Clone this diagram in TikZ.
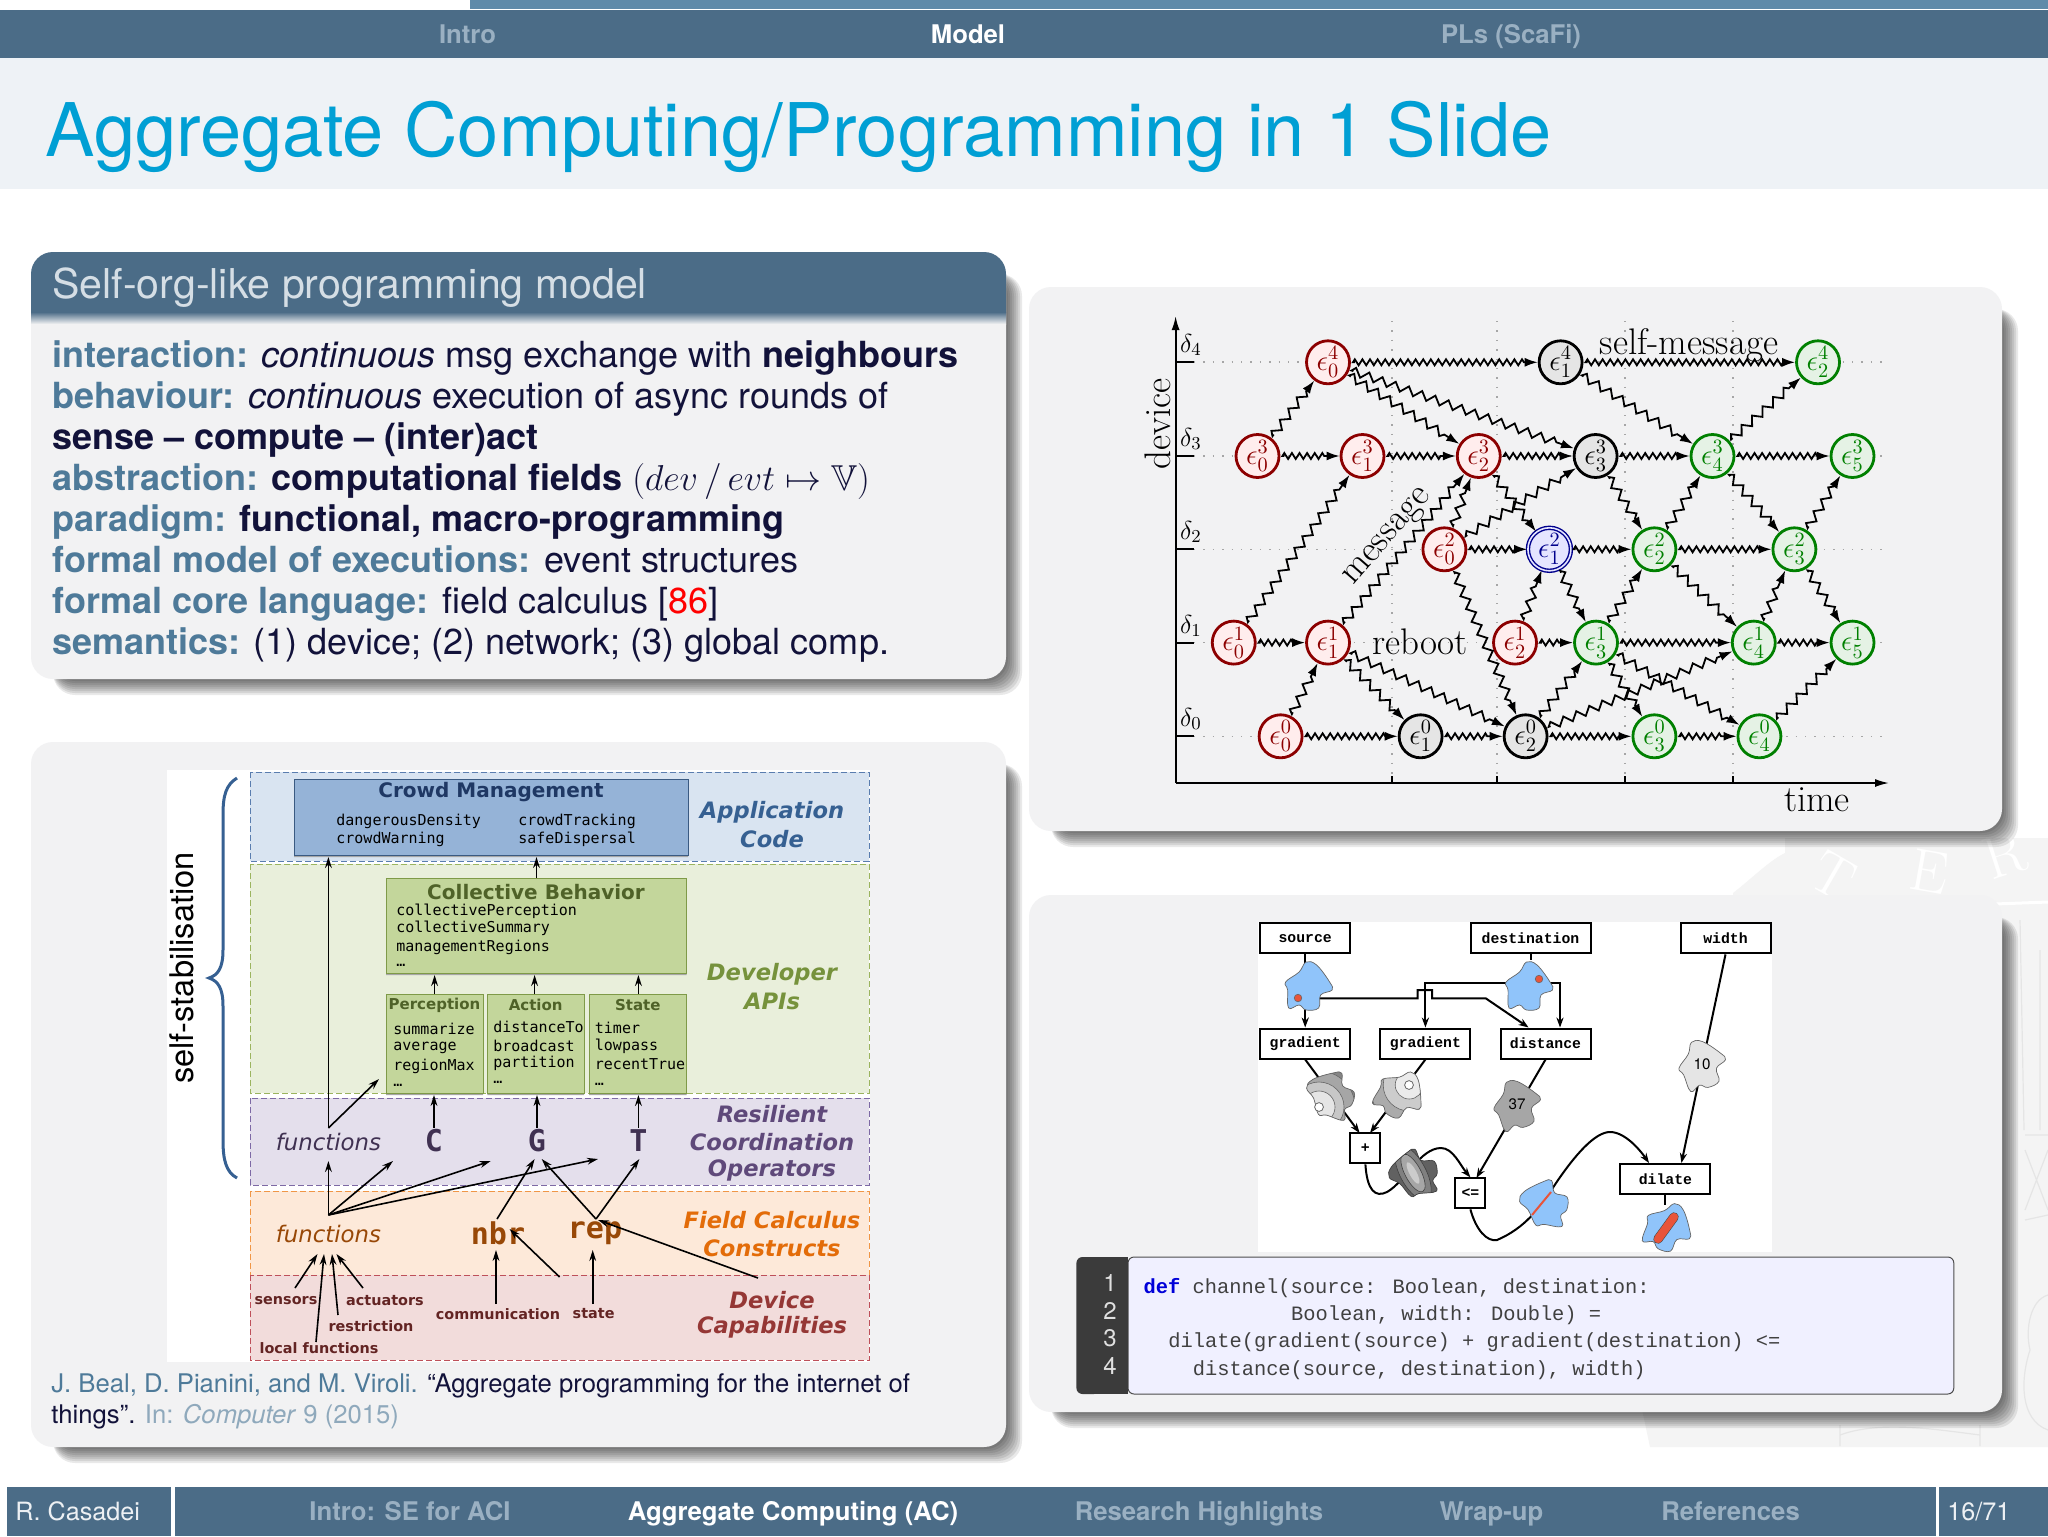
\documentclass[tikz,border=0pt]{standalone}
\usepackage{amssymb}
\usepackage[no-math]{fontspec}
\usepackage{fix-cm}
\usetikzlibrary{arrows.meta,decorations.pathmorphing,calc}
\newfontfamily\hv{TeX Gyre Heros}
\newfontfamily\dv{DejaVu Sans}
\newfontfamily\dvm{DejaVu Sans Mono}
\newfontfamily\lmo{Liberation Mono}
\newcommand{\fs}[1]{\fontsize{#1}{#1}\selectfont}
\newcommand{\tx}[5]{\node[#1] (#2) at (#3,#4) {#5};}
\definecolor{barc}{HTML}{4B6C87}
\definecolor{stripc}{HTML}{5F8AA9}
\definecolor{titc}{HTML}{009FD4}
\definecolor{bandc}{HTML}{EEF2F6}
\definecolor{panelc}{HTML}{F2F2F3}
\definecolor{keyc}{HTML}{4E7A99}
\definecolor{navy}{HTML}{12123A}
\definecolor{dimc}{HTML}{9AB0C2}
\definecolor{headc}{HTML}{D5DEE5}
\definecolor{citec}{HTML}{8FA9BC}
\definecolor{blobb}{HTML}{90C4FA}
\definecolor{dotc}{HTML}{E8543A}
\newcommand{\panel}[4]{%
  \foreach \d in {16,14,...,2}{\fill[black,opacity=.085,rounded corners=11pt] (#1+22,#2+22) rectangle (#3+\d,#4+\d);}
  \fill[panelc,rounded corners=11pt] (#1,#2) rectangle (#3,#4);}
\newcommand{\blobshape}{plot[smooth cycle,tension=.65] coordinates {(-2.5,-24)(8,-21)(21,-4)(23.5,4)(12,9)(10,22)(-2.5,24)(-9.5,19)(-20,22)(-21,4)(-23,-4)(-9.5,-14)}}
\tikzset{
  evbase/.style={circle,minimum size=21.5pt,inner sep=0pt,line width=1.4pt,font=\fs{14.5}},
  evr/.style={evbase,draw=red!55!black,fill=red!7!white,text=red!55!black},
  evk/.style={evbase,draw=black,fill=black!10,text=black},
  evg/.style={evbase,draw=green!50!black,fill=green!50!black!10,text=green!50!black},
  evb/.style={evbase,draw=blue!55!black,fill=blue!10,text=blue!55!black,double=blue!10,double distance=.8pt,line width=.7pt},
  msg/.style={line width=.9pt,decorate,decoration={zigzag,segment length=3.8pt,amplitude=1.5pt,pre length=1pt,post length=6pt},-{Latex[length=6.5pt,width=4.5pt]},shorten <=2pt},
  msgd/.style={line width=.9pt,decorate,decoration={zigzag,segment length=7pt,amplitude=2pt,pre length=1pt,post length=6pt},-{Latex[length=6.5pt,width=4.5pt]},shorten <=2pt},
  romt/.style={inner sep=0pt,font=\rmfamily\fs{18.5}},
  zone/.style={line width=.5pt,dash pattern=on 3pt off 1.5pt},
  mono/.style={inner sep=0pt,anchor=west,font=\dvm\fs{7.5}},
  abox/.style={draw,line width=.5pt},
  atit/.style={inner sep=0pt,font=\dv\bfseries\fs{10}},
  atit2/.style={inner sep=0pt,font=\dv\bfseries\fs{7.5}},
  capl/.style={inner sep=0pt,font=\dv\bfseries\itshape\fs{11.3}},
  devl/.style={inner sep=0pt,text={rgb,255:red,99;green,36;blue,35},font=\dv\bfseries\fs{7.2}},
  bigm/.style={inner sep=0pt,font=\dvm\bfseries\fs{15}},
  fun/.style={inner sep=0pt,font=\dv\itshape\fs{11.4}},
  arr/.style={line width=.8pt,-{Stealth[length=5.5pt,width=3.4pt]}},
  fbox/.style={draw=black,fill=white,line width=1pt,inner sep=0pt,font=\lmo\bfseries\fs{7.4}},
  farr/.style={line width=1pt,-{Stealth[length=5pt,width=3.6pt]}},
  fline/.style={line width=1pt},
  blobo/.style={draw=black!60,line width=.35pt},
  num/.style={inner sep=0pt,text=white!88!black,font=\hv\fs{12}},
  code/.style={inner sep=0pt,anchor=base west,text=black!75,font=\lmo\fs{10.2}},
  bodyt/.style={inner sep=0pt,anchor=base west,text=navy,font=\hv\fs{18}},
  bartxt/.style={inner sep=0pt,anchor=base,text=dimc,font=\hv\bfseries\fs{12.85}},
}
\begin{document}
\begin{tikzpicture}[x=.5pt,y=-.5pt]
\useasboundingbox (0,0) rectangle (2048,1536);
\fill[white] (0,0) rectangle (2048,1536);
% watermark
\fill[black!4.5] (1733,893) .. controls (1750,880) and (1770,860) .. (1785,853) -- (1785,838) -- (2048,838) -- (2048,1447) -- (1650,1447) -- (1640,1400) -- (1733,1400) -- cycle;
\foreach \n/\px/\py/\ang/\lt in {wa/1833/876/-30/T,wb/1930/872/-10/E,wc/2005/855/18/R}{\node[inner sep=0pt,text=white,rotate=\ang,font=\rmfamily\fs{30}] (\n) at (\px,\py) {\lt};}
\draw[white,line width=1.5pt] (1995,904) -- (2048,902);
\draw[black!10,line width=.6pt] (2020,920) -- (2024,1130) (2040,950) -- (2040,1130) (2025,1135) -- (2048,1135) (2025,1220) -- (2048,1215) (2025,1150) -- (2048,1210) (2025,1210) -- (2048,1150);
\draw[black!10,line width=.6pt] (2048,1295) .. controls (2030,1300) and (2025,1330) .. (2030,1350) .. controls (2020,1380) and (2020,1420) .. (2048,1430);
\draw[black!10,line width=.6pt] (1840,1425) -- (1840,1446) (1980,1425) -- (1980,1446) (1840,1435) .. controls (1880,1420) and (1940,1430) .. (1980,1435);
% top bars
\fill[stripc] (470,0) rectangle (2048,9);
\fill[barc] (0,10) rectangle (2048,58);
\fill[bandc] (0,58) rectangle (2048,189);
\tx{bartxt}{hi}{467.6}{44}{Intro}
\tx{bartxt,text=white}{hm}{968}{44}{Model}
\tx{bartxt}{hp}{1511}{44}{PLs (ScaFi)}
\tx{inner sep=0pt,anchor=base west,text=titc,font=\hv\fs{37}}{title}{45}{156}{Aggregate Computing/Programming in 1 Slide}
% panels
\panel{31}{252}{1006}{679}
\panel{31}{742}{1006}{1447}
\panel{1029}{287}{2002}{831}
\panel{1029}{895}{2002}{1412}
% block header
\fill[barc] (31,313) [rounded corners=11pt] -- (31,252) -- (1006,252) [sharp corners] -- (1006,313) -- cycle;
\shade[top color=barc,bottom color=panelc] (31,312) rectangle (1006,324);
\tx{inner sep=0pt,anchor=base west,text=headc,font=\hv\fs{20.55}}{blockhead}{52}{298}{Self-org-like programming model}
% block text
\tx{bodyt}{l1}{52}{367}{\textcolor{keyc}{\bfseries interaction:} \textit{continuous} msg exchange with \textbf{neighbours}}
\tx{bodyt}{l2}{52}{408}{\textcolor{keyc}{\bfseries behaviour:} \textit{continuous} execution of async rounds of}
\tx{bodyt}{l3}{52}{449}{\textbf{sense – compute – (inter)act}}
\tx{bodyt}{l4}{52}{490}{\textcolor{keyc}{\bfseries abstraction:} \textbf{computational fields} $(dev\,/\,evt\mapsto\mathbb{V})$}
\tx{bodyt}{l5}{52}{531}{\textcolor{keyc}{\bfseries paradigm:} \textbf{functional, macro-programming}}
\tx{bodyt}{l6}{52}{572}{\textcolor{keyc}{\bfseries formal model of executions:} event structures}
\tx{bodyt}{l7}{52}{613}{\textcolor{keyc}{\bfseries formal core language:} field calculus [\textcolor{red}{86}]}
\tx{bodyt}{l8}{52}{654}{\textcolor{keyc}{\bfseries semantics:} (1) device; (2) network; (3) global comp.}
% architecture
\fill[white] (167,770) rectangle (870,1362);
\filldraw[zone,fill={rgb,255:red,217;green,228;blue,241},draw={rgb,255:red,90;green,125;blue,175}] (250,772) rectangle (869,861);
\filldraw[zone,fill={rgb,255:red,233;green,239;blue,219},draw={rgb,255:red,155;green,180;blue,95}] (250,864) rectangle (869,1093);
\filldraw[zone,fill={rgb,255:red,228;green,223;blue,236},draw={rgb,255:red,125;green,105;blue,165}] (250,1098) rectangle (869,1185);
\filldraw[zone,fill={rgb,255:red,253;green,233;blue,217},draw={rgb,255:red,240;green,150;blue,70}] (250,1191) rectangle (869,1275);
\filldraw[zone,fill={rgb,255:red,242;green,220;blue,219},draw={rgb,255:red,190;green,80;blue,90}] (250,1275) rectangle (869,1360);
\fill[black!35] (294,782) rectangle (688,857) (386,880) rectangle (686.6,975) (386,996) rectangle (483,1095) (487.4,996) rectangle (584,1095) (589,996) rectangle (686.6,1095);
\definecolor{cmb}{HTML}{95B3D7}\definecolor{cmd}{HTML}{3A5A82}
\definecolor{dgb}{HTML}{C3D69B}\definecolor{dgd}{HTML}{7F9A48}\definecolor{dgt}{HTML}{4F6228}
\filldraw[abox,fill=cmb,draw=cmd] (294,779) rectangle (688,855);
\filldraw[abox,fill=dgb,draw=dgd] (386,878) rectangle (686.6,973);
\filldraw[abox,fill=dgb,draw=dgd] (386,994) rectangle (483,1093);
\filldraw[abox,fill=dgb,draw=dgd] (487.4,994) rectangle (584,1093);
\filldraw[abox,fill=dgb,draw=dgd] (589,994) rectangle (686.6,1093);
\tx{atit,text={rgb,255:red,31;green,56;blue,100}}{crowd}{491}{792}{Crowd Management}
\tx{mono}{c1}{336}{821}{dangerousDensity}
\tx{mono}{c2}{336}{839}{crowdWarning}
\tx{mono}{c3}{518}{821}{crowdTracking}
\tx{mono}{c4}{518}{839}{safeDispersal}
\tx{atit,text=dgt}{coll}{536}{892}{Collective Behavior}
\tx{mono}{cb1}{396}{911}{collectivePerception}
\tx{mono}{cb2}{396}{928}{collectiveSummary}
\tx{mono}{cb3}{396}{947}{managementRegions}
\tx{mono}{cb4}{396}{965}{…}
\tx{atit2,text=dgt}{perc}{434.5}{1005}{Perception}
\tx{mono}{p1}{393}{1029}{summarize}
\tx{mono}{p2}{393}{1048}{average}
\tx{mono}{p3}{393}{1066}{regionMax}
\tx{mono}{p4}{393}{1085}{…}
\tx{atit2,text=dgt}{act}{535.7}{1005}{Action}
\tx{mono}{a1}{493}{1027}{distanceTo}
\tx{mono}{a2}{493}{1046}{broadcast}
\tx{mono}{a3}{493}{1063}{partition}
\tx{mono}{a4}{493}{1082}{…}
\tx{atit2,text=dgt}{stat}{637.8}{1005}{State}
\tx{mono}{s1}{594.5}{1028}{timer}
\tx{mono}{s2}{594.5}{1046}{lowpass}
\tx{mono}{s3}{594.5}{1064}{recentTrue}
\tx{mono}{s4}{594.5}{1084}{…}
% right captions
\tx{capl,text={rgb,255:red,54;green,96;blue,146}}{cap1}{772}{812}{Application}
\tx{capl,text={rgb,255:red,54;green,96;blue,146}}{cap2}{772}{839}{Code}
\tx{capl,text={rgb,255:red,118;green,146;blue,60}}{cap3}{772}{974}{Developer}
\tx{capl,text={rgb,255:red,118;green,146;blue,60}}{cap4}{772}{1001}{APIs}
\tx{capl,text={rgb,255:red,95;green,73;blue,122}}{cap5}{772}{1114}{Resilient}
\tx{capl,text={rgb,255:red,95;green,73;blue,122}}{cap6}{772}{1142}{Coordination}
\tx{capl,text={rgb,255:red,95;green,73;blue,122}}{cap7}{772}{1170}{Operators}
\tx{capl,text={rgb,255:red,227;green,108;blue,9}}{cap8}{772}{1220}{Field Calculus}
\tx{capl,text={rgb,255:red,227;green,108;blue,9}}{cap9}{772}{1248}{Constructs}
\tx{capl,text={rgb,255:red,149;green,55;blue,53}}{cap10}{772}{1300}{Device}
\tx{capl,text={rgb,255:red,149;green,55;blue,53}}{cap11}{772}{1327}{Capabilities}
% operators
\tx{fun,text={rgb,255:red,64;green,49;blue,82}}{funa}{328.4}{1142}{functions}
\tx{bigm,text={rgb,255:red,64;green,49;blue,82}}{opc}{434}{1141}{C}
\tx{bigm,text={rgb,255:red,64;green,49;blue,82}}{opg}{537}{1141}{G}
\tx{bigm,text={rgb,255:red,64;green,49;blue,82}}{opt}{638.4}{1141}{T}
\tx{fun,text={rgb,255:red,152;green,72;blue,7}}{funb}{328.4}{1234}{functions}
\tx{bigm,text={rgb,255:red,152;green,72;blue,7}}{opn}{498}{1233}{nbr}
\tx{bigm,text={rgb,255:red,152;green,72;blue,7}}{opr}{595}{1233}{rep}
\tx{devl}{dsen}{286}{1301}{sensors}
\tx{devl}{dact}{385}{1301}{actuators}
\tx{devl}{dres}{371}{1326}{restriction}
\tx{devl}{dloc}{319}{1348}{local functions}
\tx{devl}{dcom}{498}{1314}{communication}
\tx{devl}{dsta}{593.6}{1314}{state}
% arch arrow ends
\foreach \n/\px/\py in {fa/328.4/1128,fb/328.4/857,fc/379/1079,cc/536.5/857,pa/434.6/975,pb/534.6/975,pc/638.4/975,
  u1/434/1128,u2/537/1128,u3/638.4/1128,v1/434/1095,v2/537/1095,v3/638.4/1095,
  fo/328.4/1215,t1/328.4/1161,t2/393/1161,t3/490.7/1161,t4/598/1159,
  nb/497/1219,gl/534.6/1159,rt/596/1219,gr/541.7/1159,tb/639.4/1159,
  ca/559.6/1277,cb/509.6/1229,sa/758/1278,sb/598/1220,
  n1/496/1304,n2/496/1250,r1/592.7/1304,r2/592.7/1250,
  q1/295/1288,q2/317.5/1254,q3/316/1342,q4/324/1254,q5/338/1315,q6/332/1254,q7/363/1288,q8/336.4/1254,
  cola/536.5/878,pp/434.6/994,aa/534.6/994,ss/638.4/994}
  {\coordinate (\n) at (\px,\py);}
\foreach \a/\b in {fa/fb,fa/fc,cola/cc,pp/pa,aa/pb,ss/pc,u1/v1,u2/v2,u3/v3,fo/t1,fo/t2,fo/t3,fo/t4,nb/gl,rt/gr,rt/tb,ca/cb,sa/sb,n1/n2,r1/r2,q1/q2,q3/q4,q5/q6,q7/q8}
  \draw[arr] (\a) -- (\b);
% brace + self-stabilisation
\draw[draw={rgb,255:red,54;green,96;blue,146},line width=1.5pt] (237,778) .. controls (226,785) and (223,795) .. (223,815) -- (223,950) .. controls (223,968) and (218,975) .. (209,978) .. controls (218,981) and (223,988) .. (223,1006) -- (223,1140) .. controls (223,1160) and (226,1172) .. (237,1178);
\tx{inner sep=0pt,rotate=90,text=black,font=\hv\fs{16.3}}{stab}{182}{968}{self-stabilisation}
% citation
\tx{inner sep=0pt,anchor=base west,text=navy,font=\hv\fs{12.83}}{cit1}{51}{1392}{\textcolor{keyc}{J. Beal, D. Pianini, and M. Viroli.} “Aggregate programming for the internet of}
\tx{inner sep=0pt,anchor=base west,text=navy,font=\hv\fs{12.83}}{cit2}{51}{1423}{things”. \textcolor{citec}{In: \textit{Computer} 9 (2015)}}
% event structure
\draw[black!35,line width=.7pt,dash pattern=on .7pt off 4pt] (1194,362) -- (1883,362) (1194,456) -- (1883,456) (1194,549.3) -- (1883,549.3) (1194,642.6) -- (1883,642.6) (1194,736.3) -- (1883,736.3);
\draw[black!35,line width=.7pt,dash pattern=on .7pt off 4pt] (1392,321) -- (1392,776) (1497,321) -- (1497,776) (1625,321) -- (1625,776) (1733,321) -- (1733,776);
\coordinate (orig) at (1175.6,783);
\coordinate (ytop) at (1175.6,316);
\coordinate (xend) at (1889,783);
\draw[line width=.9pt,-{Latex[length=7pt,width=4pt]}] (orig) -- (ytop);
\draw[line width=.9pt,-{Latex[length=7pt,width=4pt]}] (orig) -- (xend);
\draw[line width=.9pt] (1175.6,362) -- (1194,362) (1175.6,456) -- (1194,456) (1175.6,549.3) -- (1194,549.3) (1175.6,642.6) -- (1194,642.6) (1175.6,736.3) -- (1194,736.3);
\draw[line width=.9pt] (1392,783) -- (1392,776) (1497,783) -- (1497,776) (1625,783) -- (1625,776) (1733,783) -- (1733,776);
\foreach \n/\i/\py in {d4/4/345,d3/3/439,d2/2/532,d1/1/626,d0/0/719}{\node[inner sep=0pt,font=\fs{13}] (\n) at (1191,\py) {$\delta_{\i}$};}
\tx{romt,rotate=90}{devlab}{1158}{424}{device}
\tx{romt}{timelab}{1817}{800}{time}
\tx{romt}{selfm}{1689}{345}{self-message}
\tx{romt}{reboot}{1420}{642}{reboot}
\tx{romt,rotate=49}{messagel}{1389}{538}{message}
\newcommand{\evnode}[6]{\node[#1] (#2) at (#3,#4) {$\epsilon_{#5}^{#6}$};}
\evnode{evr}{e40}{1328}{362.3}{0}{4}
\evnode{evk}{e41}{1560.6}{362.3}{1}{4}
\evnode{evg}{e42}{1818}{362.3}{2}{4}
\evnode{evr}{e30}{1257.5}{456}{0}{3}
\evnode{evr}{e31}{1362.5}{456}{1}{3}
\evnode{evr}{e32}{1478.75}{456}{2}{3}
\evnode{evk}{e33}{1595.6}{456}{3}{3}
\evnode{evg}{e34}{1712.5}{456}{4}{3}
\evnode{evg}{e35}{1852.5}{456}{5}{3}
\evnode{evr}{e20}{1444.4}{549.3}{0}{2}
\evnode{evb}{e21}{1549.4}{549.3}{1}{2}
\evnode{evg}{e22}{1654.4}{549.3}{2}{2}
\evnode{evg}{e23}{1794.4}{549.3}{3}{2}
\evnode{evr}{e10}{1233.75}{642.6}{0}{1}
\evnode{evr}{e11}{1328}{642.6}{1}{1}
\evnode{evr}{e12}{1515}{642.6}{2}{1}
\evnode{evg}{e13}{1596}{642.6}{3}{1}
\evnode{evg}{e14}{1753.75}{642.6}{4}{1}
\evnode{evg}{e15}{1852.5}{642.6}{5}{1}
\evnode{evr}{e00}{1280.6}{736.3}{0}{0}
\evnode{evk}{e01}{1420.6}{736.3}{1}{0}
\evnode{evk}{e02}{1525.6}{736.3}{2}{0}
\evnode{evg}{e03}{1654.4}{736.3}{3}{0}
\evnode{evg}{e04}{1759.4}{736.3}{4}{0}
\foreach \a/\b in {e40/e41,e41/e42,e30/e31,e31/e32,e32/e33,e33/e34,e34/e35,e20/e21,e21/e22,e22/e23,e10/e11,e12/e13,e13/e14,e14/e15,e00/e01,e01/e02,e02/e03,e03/e04}
  \draw[msg] (\a) -- (\b);
\foreach \a/\b in {e30/e40,e40/e32,e40/e33,e41/e34,e34/e42,e10/e31,e11/e32,e20/e32,e20/e33,e32/e21,e33/e22,e22/e34,e34/e23,e23/e35,e20/e02,e21/e13,e12/e21,e13/e22,e22/e14,e14/e23,e23/e15,e00/e11,e11/e01,e11/e02,e02/e13,e02/e14,e13/e03,e13/e04,e04/e15}
  \draw[msgd] (\a) -- (\b);
% field flow
\fill[white] (1258,922) rectangle (1772,1252);
\node[fbox,minimum width=45pt,minimum height=15pt] (src) at (1305.2,938.4) {source};
\node[fbox,minimum width=60pt,minimum height=15pt] (dst) at (1530.5,938.4) {destination};
\node[fbox,minimum width=45pt,minimum height=15pt] (wid) at (1725.5,938.4) {width};
\node[fbox,minimum width=45pt,minimum height=15pt] (gr1) at (1305.2,1043.5) {gradient};
\node[fbox,minimum width=45pt,minimum height=15pt] (gr2) at (1425.4,1043.5) {gradient};
\node[fbox,minimum width=45pt,minimum height=15pt] (dis) at (1545.5,1043.5) {distance};
\node[fbox,minimum width=15pt,minimum height=15pt] (plu) at (1365.4,1148.4) {+};
\node[fbox,minimum width=15pt,minimum height=15pt] (leq) at (1470.4,1193.4) {<=};
\node[fbox,minimum width=45pt,minimum height=15pt] (dil) at (1665.4,1178.7) {dilate};
\foreach \n/\px/\py in {sb1/1318.6/998.3,sb2/1417.5/998.3,sb3/1417.5/990,sb4/1432/990,sb5/1432/998.3,sb6/1485.7/998.3,disa/1528.6/1027.5,
  db1/1508/983,db2/1425.4/983,db3/1550/983,db4/1560/983,disb/1560/1027.5,dilA/1649/1163,dilB/1681.4/1163,
  pl1/1387/1192,pl2/1441/1148,le1/1497/1240,le2/1556/1183,le3/1610/1132,blob9t/1665.4/1205,blob2t/1530.5/960,
  plA/1359.6/1133,plB/1370/1133,leA/1476.4/1178}
  {\coordinate (\n) at (\px,\py);}
\draw[farr] (src.south) -- (gr1.north);
\draw[fline] (dst.south) -- (blob2t);
\draw[farr] (db1) -- (db2) -- (gr2.north);
\draw[farr] (db3) -- (db4) -- (disb);
\draw[farr] (sb1) -- (sb2) -- (sb3) -- (sb4) -- (sb5) -- (sb6) -- (disa);
\draw[farr] (gr1.south) -- (plA);
\draw[farr] (gr2.south) -- (plB);
\draw[farr] (dis.south) -- (leA);
\draw[farr] (wid.south) -- (dilB);
\draw[farr] (plu.south) .. controls (1367,1190) and (1375,1198) .. (pl1) .. controls (1405,1182) and (1420,1148) .. (pl2) .. controls (1453,1148) and (1460,1165) .. (leq.north);
\draw[farr] (leq.south) .. controls (1476,1230) and (1487,1242) .. (le1) .. controls (1525,1228) and (1540,1208) .. (le2) .. controls (1575,1155) and (1595,1132) .. (le3) .. controls (1625,1132) and (1640,1150) .. (dilA);
\draw[fline] (dil.south) -- (blob9t);
% blobs
\begin{scope}[shift={(1308.6,986)}] \filldraw[blobo,fill=blobb] \blobshape; \filldraw[fill=dotc,draw=black!60,line width=.3pt] (-10.6,12) circle (1.9pt); \end{scope}
\begin{scope}[shift={(1529,986)}] \filldraw[blobo,fill=blobb] \blobshape; \filldraw[fill=dotc,draw=black!60,line width=.3pt] (10,-7) circle (1.9pt); \end{scope}
\begin{scope}[shift={(1330,1094)},rotate=70]
  \begin{scope} \clip \blobshape; \fill[black!48] (0,0) circle (40pt);
    \begin{scope}[rotate=-70] \fill[black!35] (-11,13) circle (18pt); \draw[black!60,line width=.3pt] (-11,13) circle (18pt); \fill[black!22] (-11,13) circle (12.5pt); \draw[black!60,line width=.3pt] (-11,13) circle (12.5pt); \fill[black!10] (-11,13) circle (8pt); \draw[black!60,line width=.3pt] (-11,13) circle (8pt); \end{scope}
  \end{scope}
  \draw[blobo] \blobshape;
\end{scope}
\filldraw[white,draw=black!60,line width=.4pt] (1319,1107) circle (2.2pt);
\begin{scope}[shift={(1400.7,1094)},rotate=-30]
  \begin{scope} \clip \blobshape; \fill[black!45] (0,0) circle (40pt);
    \begin{scope}[rotate=30] \fill[black!33] (8.5,-9) circle (20pt); \draw[black!60,line width=.3pt] (8.5,-9) circle (20pt); \fill[black!20] (8.5,-9) circle (13pt); \draw[black!60,line width=.3pt] (8.5,-9) circle (13pt); \fill[black!8] (8.5,-9) circle (7pt); \draw[black!60,line width=.3pt] (8.5,-9) circle (7pt); \end{scope}
  \end{scope}
  \draw[blobo] \blobshape;
\end{scope}
\filldraw[white,draw=black!60,line width=.4pt] (1409,1085) circle (2.2pt);
\begin{scope}[shift={(1517,1104)},rotate=20] \filldraw[blobo,fill=black!35] \blobshape; \end{scope}
\node[inner sep=0pt,font=\hv\fs{7.6}] (v37) at (1517,1104) {37};
\begin{scope}[shift={(1702,1064)},rotate=20] \filldraw[blobo,fill=black!10] \blobshape; \end{scope}
\node[inner sep=0pt,font=\hv\fs{7.6}] (v10) at (1702,1064) {10};
\begin{scope}[shift={(1413,1173)},rotate=95]
  \begin{scope} \clip \blobshape; \fill[black!62] (0,0) circle (40pt);
    \begin{scope}[rotate=-95]
    \fill[black!50,rotate around={-62:(0,0)}] (0,0) ellipse (15pt and 6.5pt);
    \draw[black!75,line width=.3pt,rotate around={-62:(0,0)}] (0,0) ellipse (15pt and 6.5pt);
    \fill[black!35,rotate around={-62:(0,0)}] (0,0) ellipse (10.5pt and 4pt);
    \draw[black!75,line width=.3pt,rotate around={-62:(0,0)}] (0,0) ellipse (10.5pt and 4pt);
    \fill[black!20,rotate around={-62:(0,0)}] (0,0) ellipse (6pt and 1.8pt);
    \end{scope}
  \end{scope}
  \draw[black!75,line width=.35pt] \blobshape;
\end{scope}
\begin{scope}[shift={(1543.6,1203)},rotate=80] \filldraw[blobo,fill=blobb] \blobshape; \end{scope}
\draw[dotc,line width=1pt] (1532,1215) -- (1551,1192);
\begin{scope}[shift={(1668.6,1227)},rotate=-20] \filldraw[blobo,fill=blobb] \blobshape; \end{scope}
\draw[black!70,line width=4.7pt,line cap=round] (1658,1239) -- (1674,1217);
\draw[dotc,line width=4.1pt,line cap=round] (1658,1239) -- (1674,1217);
% code
\filldraw[draw=black!70,line width=.5pt,fill={rgb,255:red,240;green,240;blue,255},rounded corners=3pt] (1128,1257) rectangle (1953.8,1394);
\fill[black!77] (1090,1257) rectangle (1128,1394);
\fill[black!77,rounded corners=3pt] (1076.4,1257) rectangle (1100,1394);
\tx{num}{n1t}{1110}{1283}{1}
\tx{num}{n2t}{1110}{1311}{2}
\tx{num}{n3t}{1110}{1338}{3}
\tx{num}{n4t}{1110}{1366}{4}
\tx{code}{cd1}{1143.3}{1293}{\textcolor{blue!85!black}{\bfseries def} channel(source: Boolean, destination:}
\tx{code}{cd2}{1290.7}{1320}{Boolean, width: Double) =}
\tx{code}{cd3}{1167.9}{1347}{dilate(gradient(source) + gradient(destination) <=}
\tx{code}{cd4}{1192.4}{1375}{distance(source, destination), width)}
% footer
\fill[barc] (7,1487) rectangle (171,1536);
\fill[barc] (175,1487) rectangle (1936,1536);
\fill[barc] (1939,1487) rectangle (2048,1536);
\tx{inner sep=0pt,anchor=base west,text=white!90!barc,font=\hv\fs{12.6}}{fr}{15}{1520}{R. Casadei}
\tx{bartxt}{f1}{410}{1520}{Intro: SE for ACI}
\tx{bartxt,text=white}{f2}{793}{1520}{Aggregate Computing (AC)}
\tx{bartxt}{f3}{1199}{1520}{Research Highlights}
\tx{bartxt}{f4}{1491.5}{1520}{Wrap-up}
\tx{bartxt}{f5}{1730.5}{1520}{References}
\tx{inner sep=0pt,anchor=base west,text=white!90!barc,font=\hv\fs{12.6}}{fn}{1947}{1520}{16/71}
\end{tikzpicture}
\end{document}
